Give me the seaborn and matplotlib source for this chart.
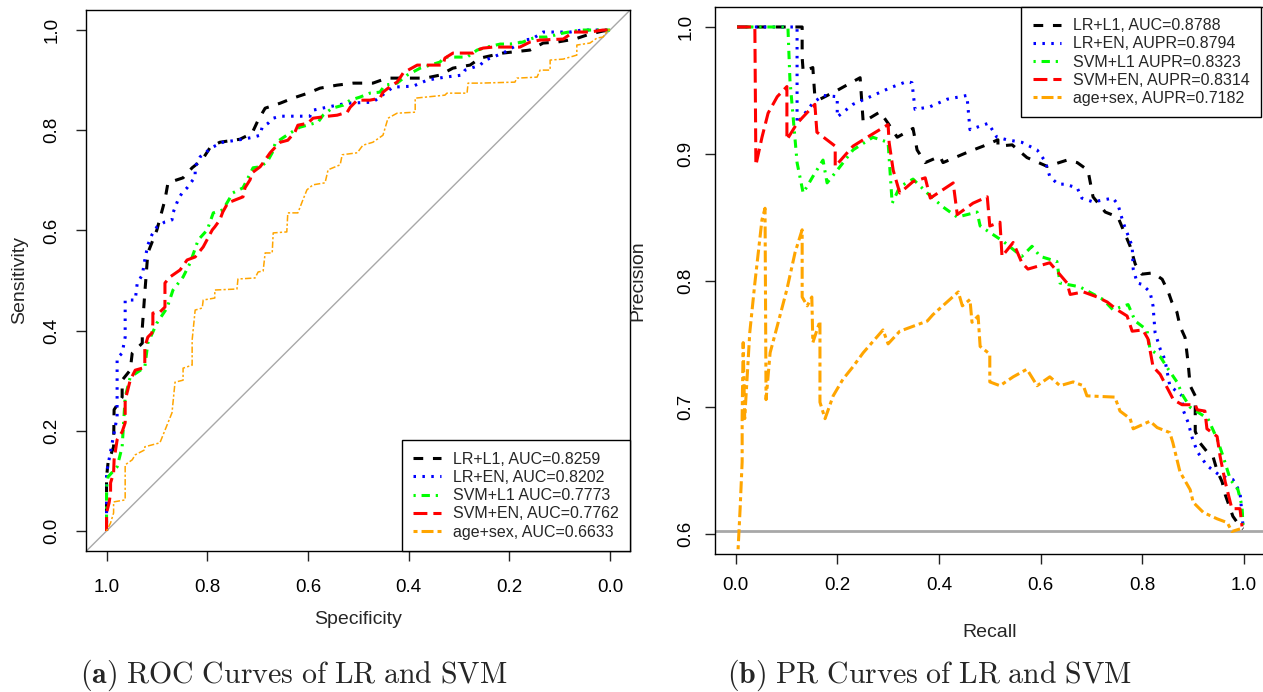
import matplotlib
matplotlib.use("Agg")
import matplotlib.pyplot as plt
import seaborn as sns
from matplotlib.lines import Line2D

# ---------------- data ----------------
roc_labels = ["LR+L1, AUC=0.8259", "LR+EN, AUC=0.8202", "SVM+L1 AUC=0.7773",
              "SVM+EN, AUC=0.7762", "age+sex, AUC=0.6633"]
pr_labels = ["LR+L1, AUC=0.8788", "LR+EN, AUPR=0.8794", "SVM+L1 AUPR=0.8323",
             "SVM+EN, AUPR=0.8314", "age+sex, AUPR=0.7182"]

roc_lrl1_spec = [1.0, 1.0, 0.997, 0.986, 0.985, 0.969, 0.969, 0.953, 0.949, 0.929, 0.929, 0.924,
                 0.918, 0.900, 0.884, 0.878, 0.848, 0.830, 0.810, 0.794, 0.775, 0.735, 0.711, 0.699,
                 0.685, 0.655, 0.630, 0.600, 0.576, 0.542, 0.510, 0.471, 0.443, 0.367, 0.338, 0.312,
                 0.278, 0.258, 0.213, 0.159, 0.133, 0.105, 0.070, 0.040, 0.014, 0.0]
roc_lrl1_sens = [0.0, 0.108, 0.136, 0.168, 0.242, 0.267, 0.301, 0.321, 0.355, 0.375, 0.405, 0.475,
                 0.555, 0.601, 0.661, 0.695, 0.705, 0.725, 0.741, 0.766, 0.776, 0.782, 0.794, 0.820,
                 0.844, 0.854, 0.864, 0.874, 0.884, 0.890, 0.894, 0.894, 0.904, 0.904, 0.910, 0.924,
                 0.930, 0.944, 0.954, 0.960, 0.974, 0.976, 0.982, 0.992, 0.998, 1.0]

roc_lren_spec = [1.0, 1.0, 0.979, 0.979, 0.969, 0.963, 0.963, 0.943, 0.939, 0.929, 0.924, 0.918,
                 0.910, 0.900, 0.884, 0.870, 0.868, 0.858, 0.850, 0.840, 0.824, 0.824, 0.814, 0.790,
                 0.769, 0.729, 0.709, 0.695, 0.691, 0.679, 0.669, 0.655, 0.596, 0.590, 0.562, 0.522,
                 0.471, 0.431, 0.391, 0.363, 0.328, 0.294, 0.288, 0.258, 0.248, 0.232, 0.209, 0.185,
                 0.173, 0.155, 0.133, 0.079, 0.056, 0.0]
roc_lren_sens = [0.0, 0.116, 0.228, 0.345, 0.355, 0.387, 0.461, 0.461, 0.495, 0.511, 0.541, 0.571,
                 0.591, 0.607, 0.617, 0.621, 0.635, 0.661, 0.675, 0.685, 0.707, 0.727, 0.747, 0.766,
                 0.776, 0.782, 0.786, 0.790, 0.806, 0.814, 0.824, 0.828, 0.828, 0.840, 0.846, 0.854,
                 0.856, 0.886, 0.888, 0.900, 0.906, 0.910, 0.920, 0.930, 0.940, 0.946, 0.956, 0.970,
                 0.980, 0.982, 0.996, 0.996, 1.0, 1.0]

roc_svml1_spec = [1.0, 1.0, 1.0, 0.997, 0.979, 0.969, 0.963, 0.953, 0.924, 0.918, 0.900, 0.880,
                  0.868, 0.848, 0.834, 0.818, 0.800, 0.788, 0.769, 0.749, 0.729, 0.721, 0.709, 0.695,
                  0.681, 0.671, 0.665, 0.651, 0.636, 0.616, 0.580, 0.570, 0.552, 0.530, 0.516, 0.497,
                  0.477, 0.457, 0.447, 0.423, 0.403, 0.377, 0.357, 0.338, 0.328, 0.284, 0.264, 0.244,
                  0.218, 0.199, 0.173, 0.159, 0.145, 0.125, 0.093, 0.060, 0.0]
roc_svml1_sens = [0.0, 0.062, 0.088, 0.108, 0.128, 0.168, 0.267, 0.307, 0.327, 0.375, 0.415, 0.445,
                  0.481, 0.507, 0.535, 0.581, 0.601, 0.635, 0.641, 0.675, 0.685, 0.701, 0.725, 0.727,
                  0.737, 0.755, 0.774, 0.784, 0.794, 0.806, 0.816, 0.830, 0.844, 0.850, 0.860, 0.866,
                  0.874, 0.876, 0.890, 0.894, 0.910, 0.924, 0.930, 0.936, 0.946, 0.946, 0.960, 0.966,
                  0.972, 0.972, 0.976, 0.982, 0.986, 0.986, 0.994, 1.0, 1.0]

roc_svmen_spec = [1.0, 1.0, 0.995, 0.992, 0.992, 0.986, 0.985, 0.979, 0.969, 0.963, 0.963, 0.953,
                  0.943, 0.929, 0.924, 0.924, 0.918, 0.910, 0.908, 0.908, 0.894, 0.884, 0.884, 0.884,
                  0.874, 0.854, 0.840, 0.824, 0.808, 0.790, 0.785, 0.775, 0.769, 0.759, 0.729, 0.725,
                  0.715, 0.711, 0.695, 0.689, 0.675, 0.665, 0.655, 0.640, 0.626, 0.620, 0.600, 0.590,
                  0.560, 0.542, 0.522, 0.516, 0.502, 0.477, 0.457, 0.451, 0.433, 0.423, 0.411, 0.401,
                  0.383, 0.332, 0.328, 0.312, 0.272, 0.264, 0.252, 0.232, 0.179, 0.159, 0.139, 0.093,
                  0.073, 0.040, 0.014, 0.0]
roc_svmen_sens = [0.0, 0.036, 0.056, 0.076, 0.096, 0.116, 0.142, 0.182, 0.198, 0.216, 0.261, 0.301,
                  0.321, 0.325, 0.335, 0.367, 0.387, 0.395, 0.415, 0.435, 0.437, 0.447, 0.467, 0.495,
                  0.507, 0.521, 0.541, 0.547, 0.567, 0.601, 0.607, 0.621, 0.637, 0.655, 0.667, 0.685,
                  0.701, 0.715, 0.727, 0.735, 0.755, 0.766, 0.776, 0.780, 0.796, 0.810, 0.814, 0.824,
                  0.828, 0.830, 0.836, 0.846, 0.860, 0.860, 0.864, 0.876, 0.890, 0.896, 0.914, 0.920,
                  0.930, 0.930, 0.944, 0.954, 0.954, 0.960, 0.964, 0.966, 0.966, 0.976, 0.980, 0.982,
                  0.996, 0.996, 1.0, 1.0]

roc_agesex_spec = [1.0, 0.992, 0.986, 0.986, 0.963, 0.963, 0.949, 0.943, 0.924, 0.924, 0.894, 0.878,
                   0.870, 0.864, 0.848, 0.848, 0.830, 0.830, 0.824, 0.810, 0.808, 0.785, 0.785, 0.741,
                   0.739, 0.705, 0.699, 0.689, 0.685, 0.671, 0.669, 0.642, 0.640, 0.620, 0.610, 0.602,
                   0.590, 0.566, 0.560, 0.536, 0.532, 0.502, 0.491, 0.471, 0.451, 0.441, 0.423, 0.387,
                   0.387, 0.328, 0.324, 0.284, 0.282, 0.258, 0.189, 0.185, 0.145, 0.139, 0.119, 0.119,
                   0.093, 0.066, 0.066, 0.040, 0.026, 0.014, 0.004, 0.0]
roc_agesex_sens = [0.0, 0.016, 0.036, 0.058, 0.062, 0.132, 0.142, 0.152, 0.162, 0.168, 0.176, 0.216,
                   0.236, 0.297, 0.301, 0.325, 0.331, 0.381, 0.441, 0.445, 0.461, 0.465, 0.481, 0.483,
                   0.503, 0.505, 0.517, 0.519, 0.555, 0.555, 0.595, 0.597, 0.635, 0.635, 0.661, 0.681,
                   0.691, 0.695, 0.721, 0.731, 0.751, 0.755, 0.770, 0.776, 0.790, 0.824, 0.834, 0.836,
                   0.864, 0.870, 0.874, 0.874, 0.894, 0.894, 0.896, 0.904, 0.906, 0.920, 0.920, 0.940,
                   0.942, 0.950, 0.970, 0.974, 0.984, 0.986, 1.0, 1.0]

pr_lrl1_rec = [0.003, 0.131, 0.131, 0.133, 0.152, 0.156, 0.166, 0.200, 0.245, 0.251, 0.284, 0.300,
               0.318, 0.349, 0.357, 0.373, 0.402, 0.408, 0.461, 0.487, 0.516, 0.516, 0.544, 0.573,
               0.613, 0.652, 0.672, 0.693, 0.703, 0.727, 0.752, 0.776, 0.786, 0.799, 0.821, 0.839,
               0.851, 0.858, 0.868, 0.874, 0.884, 0.890, 0.894, 0.904, 0.904, 0.913, 0.927, 0.939,
               0.947, 0.957, 0.963, 0.978, 0.992, 0.998]
pr_lrl1_prec = [1.0, 1.0, 0.976, 0.965, 0.968, 0.945, 0.943, 0.950, 0.960, 0.925, 0.933, 0.924,
                0.913, 0.920, 0.903, 0.893, 0.898, 0.893, 0.902, 0.906, 0.911, 0.906, 0.907, 0.897,
                0.890, 0.895, 0.893, 0.887, 0.866, 0.854, 0.850, 0.827, 0.813, 0.805, 0.806, 0.801,
                0.791, 0.783, 0.775, 0.764, 0.755, 0.735, 0.717, 0.709, 0.681, 0.672, 0.665, 0.661,
                0.650, 0.641, 0.631, 0.614, 0.606, 0.604]

pr_lren_rec = [0.003, 0.121, 0.121, 0.127, 0.152, 0.172, 0.200, 0.200, 0.231, 0.265, 0.304, 0.337,
               0.347, 0.353, 0.382, 0.416, 0.455, 0.461, 0.497, 0.514, 0.534, 0.563, 0.593, 0.609,
               0.618, 0.634, 0.648, 0.672, 0.681, 0.703, 0.742, 0.752, 0.762, 0.780, 0.782, 0.790,
               0.799, 0.815, 0.821, 0.825, 0.835, 0.844, 0.854, 0.878, 0.880, 0.890, 0.898, 0.908,
               0.927, 0.953, 0.978, 0.992, 0.998]
pr_lren_prec = [1.0, 1.0, 0.924, 0.927, 0.940, 0.946, 0.945, 0.929, 0.939, 0.945, 0.952, 0.957,
                0.956, 0.935, 0.937, 0.943, 0.946, 0.919, 0.924, 0.913, 0.911, 0.909, 0.903, 0.894,
                0.882, 0.876, 0.876, 0.873, 0.865, 0.862, 0.865, 0.860, 0.846, 0.827, 0.809, 0.798,
                0.797, 0.791, 0.780, 0.759, 0.746, 0.738, 0.717, 0.709, 0.698, 0.688, 0.676, 0.665,
                0.654, 0.646, 0.643, 0.633, 0.606]

pr_svml1_rec = [0.003, 0.103, 0.107, 0.121, 0.133, 0.152, 0.172, 0.180, 0.200, 0.231, 0.270, 0.300,
                0.308, 0.323, 0.349, 0.377, 0.408, 0.436, 0.475, 0.481, 0.526, 0.563, 0.583, 0.599,
                0.632, 0.638, 0.677, 0.723, 0.742, 0.772, 0.786, 0.809, 0.815, 0.835, 0.851, 0.868,
                0.880, 0.894, 0.929, 0.947, 0.959, 0.973, 0.988, 0.996, 0.998]
pr_svml1_prec = [1.0, 1.0, 0.958, 0.893, 0.869, 0.882, 0.895, 0.877, 0.887, 0.903, 0.913, 0.909,
                 0.861, 0.874, 0.880, 0.869, 0.858, 0.850, 0.854, 0.843, 0.831, 0.819, 0.827, 0.819,
                 0.815, 0.798, 0.795, 0.785, 0.777, 0.781, 0.768, 0.761, 0.746, 0.740, 0.730, 0.720,
                 0.709, 0.700, 0.691, 0.675, 0.661, 0.643, 0.635, 0.622, 0.606]

pr_svmen_rec = [0.003, 0.038, 0.040, 0.052, 0.064, 0.082, 0.101, 0.101, 0.121, 0.156, 0.160, 0.196,
                0.196, 0.231, 0.259, 0.300, 0.302, 0.310, 0.323, 0.349, 0.373, 0.383, 0.428, 0.436,
                0.467, 0.495, 0.500, 0.520, 0.524, 0.546, 0.563, 0.575, 0.618, 0.652, 0.658, 0.684,
                0.711, 0.731, 0.750, 0.770, 0.780, 0.801, 0.811, 0.821, 0.835, 0.861, 0.878, 0.904,
                0.908, 0.923, 0.927, 0.947, 0.953, 0.963, 0.976, 0.992, 0.996]
pr_svmen_prec = [1.0, 1.0, 0.891, 0.913, 0.932, 0.945, 0.953, 0.911, 0.924, 0.939, 0.917, 0.906,
                 0.890, 0.906, 0.913, 0.923, 0.909, 0.887, 0.869, 0.878, 0.881, 0.865, 0.877, 0.852,
                 0.861, 0.866, 0.843, 0.846, 0.819, 0.830, 0.814, 0.809, 0.814, 0.798, 0.789, 0.791,
                 0.787, 0.783, 0.777, 0.772, 0.760, 0.761, 0.754, 0.732, 0.726, 0.706, 0.702, 0.702,
                 0.698, 0.697, 0.683, 0.677, 0.661, 0.641, 0.620, 0.620, 0.606]

pr_agesex_rec = [0.005, 0.009, 0.013, 0.013, 0.015, 0.018, 0.028, 0.038, 0.052, 0.058, 0.060, 0.068,
                 0.082, 0.101, 0.117, 0.131, 0.131, 0.141, 0.150, 0.152, 0.166, 0.166, 0.176, 0.192,
                 0.211, 0.231, 0.251, 0.290, 0.300, 0.323, 0.377, 0.388, 0.438, 0.446, 0.461, 0.465,
                 0.477, 0.481, 0.500, 0.500, 0.520, 0.546, 0.573, 0.593, 0.618, 0.638, 0.664, 0.684,
                 0.691, 0.746, 0.756, 0.776, 0.782, 0.815, 0.829, 0.854, 0.860, 0.874, 0.894, 0.900,
                 0.920, 0.947, 0.967, 0.976, 0.992]
pr_agesex_prec = [0.588, 0.620, 0.657, 0.693, 0.751, 0.691, 0.759, 0.798, 0.848, 0.857, 0.706, 0.743,
                  0.764, 0.793, 0.822, 0.840, 0.787, 0.780, 0.787, 0.751, 0.768, 0.704, 0.691, 0.709,
                  0.722, 0.732, 0.743, 0.761, 0.750, 0.760, 0.768, 0.773, 0.791, 0.780, 0.785, 0.767,
                  0.772, 0.748, 0.742, 0.720, 0.717, 0.724, 0.730, 0.717, 0.724, 0.717, 0.720, 0.717,
                  0.709, 0.708, 0.697, 0.691, 0.683, 0.689, 0.684, 0.680, 0.672, 0.649, 0.635, 0.625,
                  0.617, 0.612, 0.609, 0.602, 0.604]

pr_baseline = 0.6024
tick_vals = [0.0, 0.2, 0.4, 0.6, 0.8, 1.0]
pr_yticks = [0.6, 0.7, 0.8, 0.9, 1.0]

# ---------------- styling ----------------
sns.set_theme(style="white")
plt.rcParams["font.family"] = ["Liberation Sans", "DejaVu Sans"]
plt.rcParams["mathtext.fontset"] = "cm"
plt.rcParams["lines.scale_dashes"] = False

colors = ["#000000", "#0000FF", "#00FF00", "#FF0000", "#FFA500"]
dash_main = [(0, (7, 7)), (0, (1.8, 4.6)), (0, (1.6, 4.2, 6.0, 4.2)),
             (0, (10, 4.3)), (0, (2.9, 2.9, 8.6, 2.9))]
dash_orange_thin = (0, (1.6, 1.6, 4.6, 1.6))

W, H = 1263, 692
fig = plt.figure(figsize=(W / 100, H / 100), dpi=100)


def axes_px(left, right, top, bottom):
    return fig.add_axes([left / W, 1 - bottom / H, (right - left) / W, (bottom - top) / H])


ax1 = axes_px(86.4, 630.2, 10.0, 551.0)
ax2 = axes_px(715.2, 1264.4, 6.7, 554.3)


def draw(ax, x, y, color, lw, ls):
    n0 = len(ax.lines)
    sns.lineplot(x=x, y=y, ax=ax, sort=False, estimator=None, color=color,
                 linewidth=lw, legend=False)
    for ln in ax.lines[n0:]:
        ln.set_linestyle(ls)
        ln.set_dash_capstyle("butt")
        ln.set_solid_capstyle("butt")
    return ax.lines[-1]


# ROC
ax1.axline((1, 0), (0, 1), color="#A8A8A8", lw=1.0, zorder=1)
roc_data = [(roc_lrl1_spec, roc_lrl1_sens), (roc_lren_spec, roc_lren_sens),
            (roc_svml1_spec, roc_svml1_sens), (roc_svmen_spec, roc_svmen_sens),
            (roc_agesex_spec, roc_agesex_sens)]
for i, (x, y) in enumerate(roc_data):
    if i == 4:
        draw(ax1, x, y, colors[i], 1.1, dash_orange_thin)
    else:
        draw(ax1, x, y, colors[i], 2.2, dash_main[i])

ax1.set_xlim(1.04, -0.04)
ax1.set_ylim(-0.04, 1.04)

# PR
ax2.axhline(pr_baseline, color="#A8A8A8", lw=2.0, zorder=1)
pr_data = [(pr_lrl1_rec, pr_lrl1_prec), (pr_lren_rec, pr_lren_prec),
           (pr_svml1_rec, pr_svml1_prec), (pr_svmen_rec, pr_svmen_prec),
           (pr_agesex_rec, pr_agesex_prec)]
for i, (x, y) in enumerate(pr_data):
    draw(ax2, x, y, colors[i], 2.2, dash_main[i])
ax2.set_xlim(-0.04, 1.04)
ax2.set_ylim(0.584, 1.016)

for ax in (ax1, ax2):
    for s in ax.spines.values():
        s.set_color("black")
        s.set_linewidth(1.0)
    ax.tick_params(bottom=True, left=True, direction="out", length=7.5, width=1.0,
                   color="#222222", labelsize=13.5, labelcolor="black")
    ax.grid(False)

ax1.set_xticks(tick_vals)
ax1.set_xticklabels([f"{v:.1f}" for v in tick_vals])
ax1.set_yticks(tick_vals)
ax1.set_yticklabels([f"{v:.1f}" for v in tick_vals], rotation=90, va="center")
ax1.tick_params(axis="x", pad=13.0)
ax1.tick_params(axis="y", pad=11.0)

ax2.set_xticks(tick_vals)
ax2.set_xticklabels([f"{v:.1f}" for v in tick_vals])
ax2.set_yticks(pr_yticks)
ax2.set_yticklabels([f"{v:.1f}" for v in pr_yticks], rotation=90, va="center")
ax2.tick_params(axis="x", pad=9.0)
ax2.tick_params(axis="y", pad=7.5)

ax1.set_xlabel("Specificity", fontsize=14)
ax1.set_ylabel("Sensitivity", fontsize=14)
ax1.xaxis.set_label_coords(0.5, -0.1275)
ax1.yaxis.set_label_coords(-0.1230, 0.5)
ax1.xaxis.label.set_va("center")
ax1.yaxis.label.set_va("center")

ax2.set_xlabel("Recall", fontsize=14)
ax2.set_ylabel("Precision", fontsize=14)
ax2.xaxis.set_label_coords(0.5, -0.1419)
ax2.yaxis.set_label_coords(-0.1406, 0.5)
ax2.xaxis.label.set_va("center")
ax2.yaxis.label.set_va("center")


# legends
def make_handles():
    hs = []
    for i in range(5):
        hs.append(Line2D([0], [0], color=colors[i], lw=2.2, linestyle=dash_main[i],
                         dash_capstyle="butt"))
    return hs


leg_kw = dict(fontsize=11.5, frameon=True, fancybox=False, edgecolor="black",
              framealpha=1.0, borderaxespad=0.0, handlelength=1.75, handletextpad=0.75,
              borderpad=0.72, labelspacing=0.2)
l1 = ax1.legend(make_handles(), roc_labels, loc="lower right", bbox_to_anchor=(1.0, 0.0), **leg_kw)
l2 = ax2.legend(make_handles(), pr_labels, loc="upper right",
                bbox_to_anchor=((1261 - 715.2) / 549.2, 1.0), **leg_kw)
for lg in (l1, l2):
    lg.get_frame().set_linewidth(1.0)

# captions
fig.text(294 / W, 1 - 675 / H, r"$\mathbf{(a)}\ \mathrm{ROC\ Curves\ of\ LR\ and\ SVM}$",
         ha="center", va="center", fontsize=21.5)
fig.text(930 / W, 1 - 675 / H, r"$\mathbf{(b)}\ \mathrm{PR\ Curves\ of\ LR\ and\ SVM}$",
         ha="center", va="center", fontsize=21.5)

fig.savefig("out.png", dpi=100)
